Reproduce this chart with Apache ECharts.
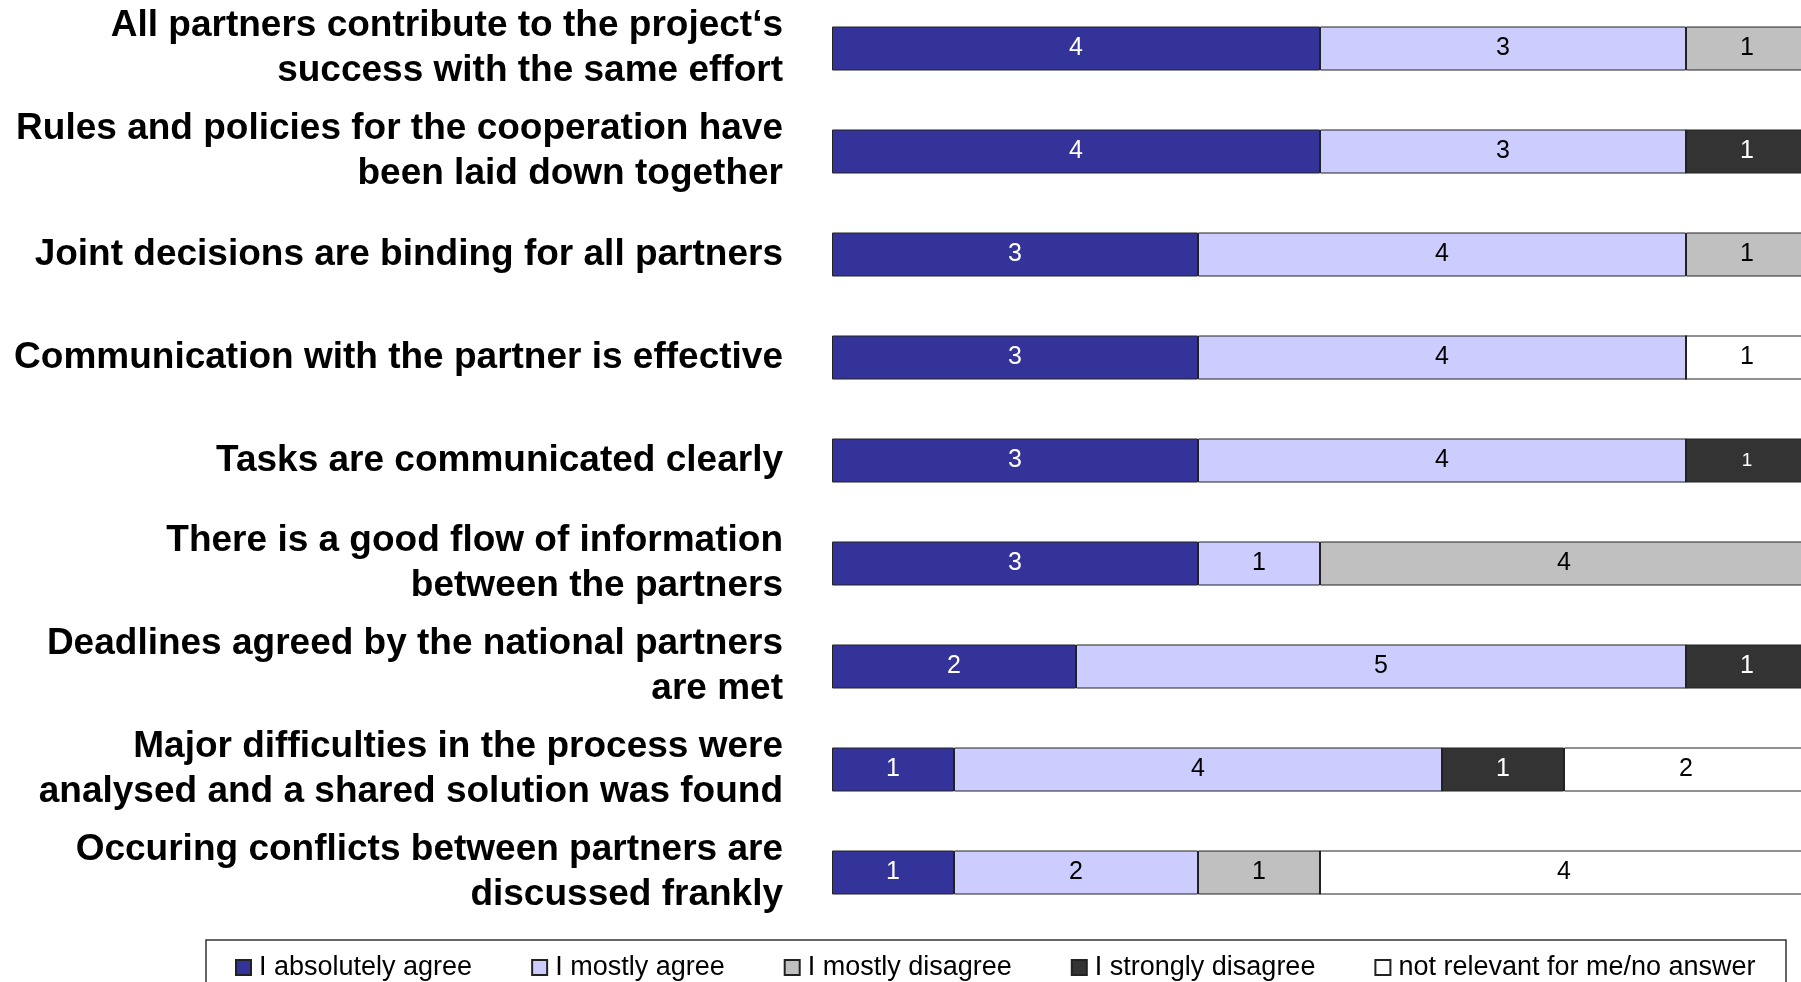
<!DOCTYPE html>
<html>
<head>
<meta charset="utf-8">
<script src="https://cdn.jsdelivr.net/npm/echarts@6/dist/echarts.min.js"></script>
<style>
  html, body { margin: 0; padding: 0; background: #fff; }
  #chart { width: 1801px; height: 982px; }
</style>
</head>
<body>
<div id="chart"></div>
<script>
// statements, top to bottom
const statements = [
  'All partners contribute to the project\u2018s\nsuccess with the same effort',
  'Rules and policies for the cooperation have\nbeen laid down together',
  'Joint decisions are binding for all partners',
  'Communication with the partner is effective',
  'Tasks are communicated clearly',
  'There is a good flow of information\nbetween the partners',
  'Deadlines agreed by the national partners\nare met',
  'Major difficulties in the process were\nanalysed and a shared solution was found',
  'Occuring conflicts between partners are\ndiscussed frankly'
]

// answer counts per statement
const absolutelyAgree = [4, 4, 3, 3, 3, 3, 2, 1, 1]
const mostlyAgree = [3, 3, 4, 4, 4, 1, 5, 4, 2]
const mostlyDisagree = [1, 0, 1, 0, 0, 4, 0, 0, 1]
const stronglyDisagree = [0, 1, 0, 0, 1, 0, 1, 1, 0]
const notRelevant = [0, 0, 0, 1, 0, 0, 0, 2, 4]

const answerNames = ['I absolutely agree', 'I mostly agree', 'I mostly disagree', 'I strongly disagree', 'not relevant for me/no answer']
const answerColors = ['#333399', '#ccccff', '#c0c0c0', '#333333', '#ffffff']
const labelColors = ['#ffffff', '#000000', '#000000', '#ffffff', '#000000']
const answerData = [absolutelyAgree, mostlyAgree, mostlyDisagree, stronglyDisagree, notRelevant]

const chart = echarts.init(document.getElementById('chart'))

const series = answerNames.map((name, i) => ({
  name,
  type: 'bar',
  stack: 'total',
  barWidth: 44,
  // the "Tasks" row has a smaller label on its dark segment
  data: answerData[i].map((v, r) => (i === 3 && r === 4 ? { value: v, label: { fontSize: 19 } } : v)),
  itemStyle: { color: answerColors[i], borderColor: '#222', borderWidth: 1 },
  label: {
    show: true,
    position: 'inside',
    color: labelColors[i],
    fontSize: 25,
    fontFamily: 'Liberation Sans',
    formatter: (p) => (p.value ? String(p.value) : '')
  },
  emphasis: { disabled: true }
}))

chart.setOption({
  animation: false,
  backgroundColor: '#fff',
  // bars run a few px past the right edge, so don't clamp the grid
  grid: { left: 832, top: -3, width: 976, height: 927, outerBoundsMode: 'none', containLabel: false },
  xAxis: {
    type: 'value',
    min: 0,
    max: 8,
    show: false
  },
  yAxis: {
    type: 'category',
    inverse: true,
    data: statements,
    axisLine: { show: false },
    axisTick: { show: false },
    axisLabel: {
      margin: 49,
      color: '#000',
      fontSize: 37,
      fontWeight: 'bold',
      fontFamily: 'Liberation Sans',
      lineHeight: 45,
      align: 'right'
    }
  },
  legend: {
    left: 230,
    top: 949,
    itemGap: 59,
    itemWidth: 15,
    itemHeight: 15,
    icon: 'rect',
    selectedMode: false,
    textStyle: { fontSize: 27, color: '#000', fontFamily: 'Liberation Sans', padding: [0, 0, 0, 3] },
    data: answerNames
  },
  graphic: [{
    type: 'rect',
    shape: { x: 206, y: 940, width: 1580, height: 60 },
    style: { fill: 'none', stroke: '#333', lineWidth: 1.5 },
    silent: true
  }],
  series
})
</script>
</body>
</html>
